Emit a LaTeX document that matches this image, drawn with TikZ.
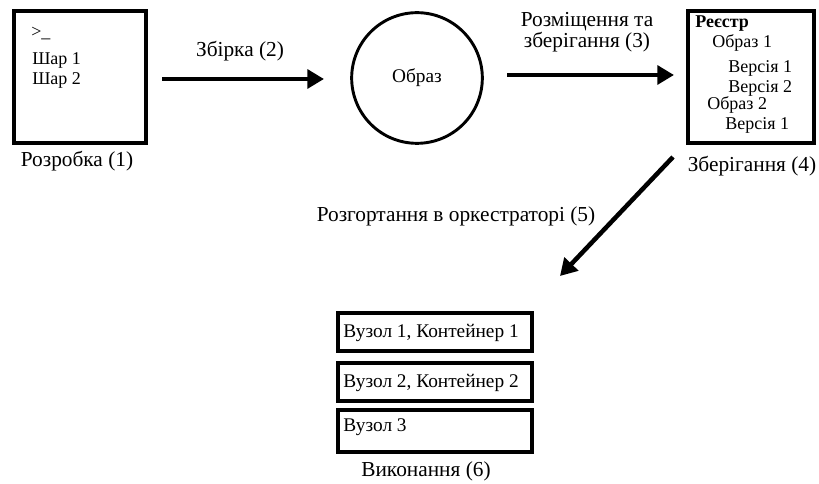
\documentclass[tikz,border=0pt]{standalone}
\usepackage{fontspec}
\setmainfont{Liberation Serif}
\usetikzlibrary{arrows.meta}
\begin{document}
\begin{tikzpicture}[x=0.75pt, y=-0.75pt, font=\fontsize{13.5}{16}\selectfont,
  box/.style = {draw, line width=3pt, inner sep=0pt},
  flow/.style = {line width=3.4pt, -{Triangle[length=12.5pt, width=14pt]}},
  txt/.style = {inner sep=0pt, anchor=base west},
  big/.style = {font=\fontsize{14.5}{17}\selectfont},
  lbl/.style = {inner sep=0pt, anchor=base, font=\fontsize{16}{19}\selectfont}]
\useasboundingbox (0,0) rectangle (819,484);
% development
\node[box, minimum width=99pt, minimum height=99pt] (1) at (80,77) {};
\node[txt] (1a) at (31,38) {>\_};
\node[txt] (1b) at (32,65) {Шар 1};
\node[txt] (1c) at (32,85) {Шар 2};
\node[lbl] (1l) at (77,167) {Розробка (1)};
% image
\node[draw, circle, line width=2.2pt, minimum size=98pt, inner sep=0pt] (2) at (417,78) {};
\node[lbl, big] (2l) at (417,83) {Образ};
% registry
\node[box, minimum width=94pt, minimum height=99pt] (3) at (751,77) {};
\node[txt] (3a) at (695,28) {\textbf{Реєстр}};
\node[txt] (3b) at (712,48) {Образ 1};
\node[txt] (3c) at (728,73) {Версія 1};
\node[txt] (3d) at (728,93) {Версія 2};
\node[txt] (3e) at (707,110) {Образ 2};
\node[txt] (3f) at (725,130) {Версія 1};
\node[lbl] (3l) at (752,172) {Зберігання (4)};
% runtime
\node[box, minimum width=146pt, minimum height=29pt] (4) at (435,332) {};
\node[box, minimum width=146pt, minimum height=29pt] (5) at (435,382) {};
\node[box, minimum width=146pt, minimum height=31pt] (6) at (435,431) {};
\node[txt, big] (4a) at (343,338) {Вузол 1, Контейнер 1};
\node[txt, big] (5a) at (343,388) {Вузол 2, Контейнер 2};
\node[txt, big] (6a) at (343,432) {Вузол 3};
\node[lbl] (6l) at (426,477) {Виконання (6)};
% arrows
\coordinate (s1) at (162,79);
\coordinate (e1) at (324,79);
\coordinate (s2) at (507,75);
\coordinate (e2) at (674,75);
\coordinate (s3) at (673,157);
\coordinate (e3) at (560,276);
\draw[flow] (s1) -- (e1);
\draw[flow] (s2) -- (e2);
\draw[flow] (s3) -- (e3);
\node[lbl] (a1) at (240,57) {Збірка (2)};
\node[lbl] (a2) at (587,27) {Розміщення та};
\node[lbl] (a3) at (587,48) {зберігання (3)};
\node[lbl] (a4) at (456,222) {Розгортання в оркестраторі (5)};
\end{tikzpicture}
\end{document}
